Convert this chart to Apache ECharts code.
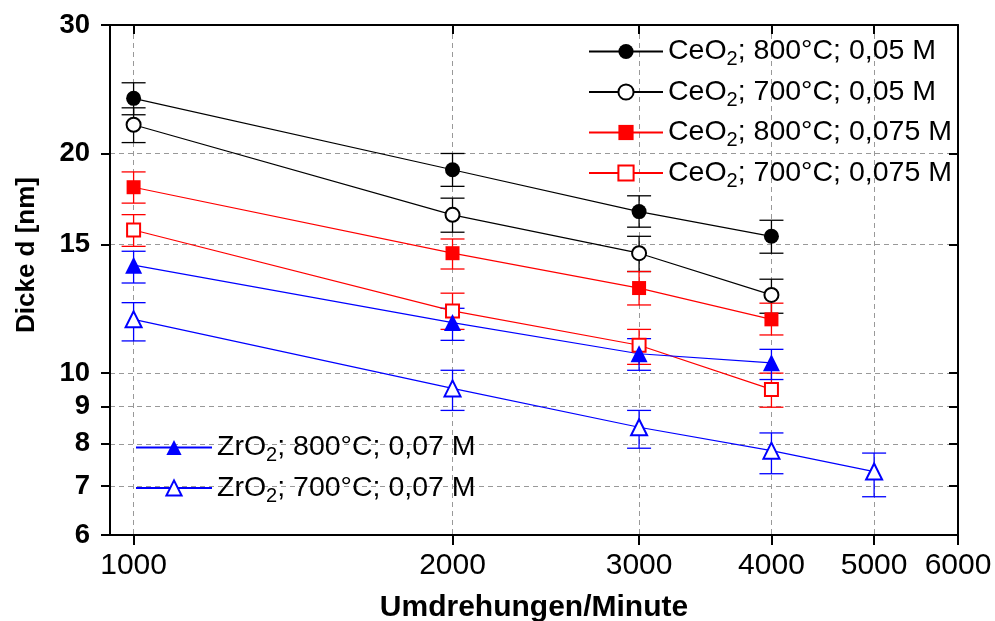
<!DOCTYPE html>
<html>
<head>
<meta charset="utf-8">
<script src="https://cdn.jsdelivr.net/npm/echarts@6/dist/echarts.min.js"></script>
<style>
  html, body { margin: 0; padding: 0; background: #fff; }
  #chart { width: 995px; height: 621px; }
</style>
</head>
<body>
<div id="chart"></div>
<script>
// x values (Umdrehungen/Minute)
const rpm = [1000, 2000, 3000, 4000];
const rpmZr700 = [1000, 2000, 3000, 4000, 5000];
const xTicks = [1000, 2000, 3000, 4000, 5000, 6000];
const yTicks = [6, 7, 8, 9, 10, 15, 20, 30];

// Dicke d [nm], mean + lower/upper end of the error bars
const ce800_005 = [23.8, 19.0, 16.65, 15.4];
const ce800_005Lo = [22.6, 18.03, 15.85, 14.6];
const ce800_005Hi = [25.0, 20.0, 17.5, 16.2];

const ce700_005 = [21.9, 16.48, 14.6, 12.8];
const ce700_005Lo = [20.7, 15.6, 13.78, 12.08];
const ce700_005Hi = [23.1, 17.37, 15.4, 13.45];

const ce800_0075 = [17.98, 14.6, 13.08, 11.85];
const ce800_0075Lo = [17.1, 13.89, 12.4, 11.28];
const ce800_0075Hi = [18.87, 15.27, 13.78, 12.47];

const ce700_0075 = [15.71, 12.17, 10.92, 9.5];
const ce700_0075Lo = [14.92, 11.48, 10.28, 8.98];
const ce700_0075Hi = [16.49, 12.87, 11.48, 10.0];

const zr800 = [14.06, 11.73, 10.63, 10.33];
const zr800Lo = [13.29, 11.09, 10.09, 9.8];
const zr800Hi = [14.69, 12.27, 11.15, 10.78];

const zr700 = [11.85, 9.53, 8.43, 7.83, 7.33];
const zr700Lo = [11.07, 8.89, 7.89, 7.28, 6.77];
const zr700Hi = [12.49, 10.09, 8.89, 8.28, 7.77];

const names = [
  'CeO2; 800°C; 0,05 M',
  'CeO2; 700°C; 0,05 M',
  'CeO2; 800°C; 0,075 M',
  'CeO2; 700°C; 0,075 M',
  'ZrO2; 800°C; 0,07 M',
  'ZrO2; 700°C; 0,07 M'
];

const groups = [
  { name: names[0], x: rpm, y: ce800_005, lo: ce800_005Lo, hi: ce800_005Hi, color: '#000000', symbol: 'circle', size: 15 },
  { name: names[1], x: rpm, y: ce700_005, lo: ce700_005Lo, hi: ce700_005Hi, color: '#000000', symbol: 'emptyCircle', size: 14 },
  { name: names[2], x: rpm, y: ce800_0075, lo: ce800_0075Lo, hi: ce800_0075Hi, color: '#ff0000', symbol: 'rect', size: 14 },
  { name: names[3], x: rpm, y: ce700_0075, lo: ce700_0075Lo, hi: ce700_0075Hi, color: '#ff0000', symbol: 'emptyRect', size: 13 },
  { name: names[4], x: rpm, y: zr800, lo: zr800Lo, hi: zr800Hi, color: '#0000ff', symbol: 'triangle', size: 17 },
  { name: names[5], x: rpmZr700, y: zr700, lo: zr700Lo, hi: zr700Hi, color: '#0000ff', symbol: 'emptyTriangle', size: 16 }
];

const FONT = '"Liberation Sans", Arial, sans-serif';

function renderErrorBar(params, api) {
  const x = api.value(0);
  const lo = api.coord([x, api.value(1)]);
  const hi = api.coord([x, api.value(2)]);
  const w = 12;
  const style = { stroke: api.visual('color'), lineWidth: 1.3 };
  return {
    type: 'group',
    children: [
      { type: 'line', shape: { x1: lo[0], y1: lo[1], x2: hi[0], y2: hi[1] }, style: style },
      { type: 'line', shape: { x1: lo[0] - w, y1: lo[1], x2: lo[0] + w, y2: lo[1] }, style: style },
      { type: 'line', shape: { x1: hi[0] - w, y1: hi[1], x2: hi[0] + w, y2: hi[1] }, style: style }
    ]
  };
}

// "CeO2; ..." -> rich text with subscript 2
function legendLabel(name) {
  const i = name.indexOf('2');
  return '{t|' + name.slice(0, i) + '}{s|2}{t|' + name.slice(i + 1) + '}';
}

const series = [];
groups.forEach(g => {
  series.push({
    name: g.name + ' err',
    type: 'custom',
    renderItem: renderErrorBar,
    itemStyle: { color: g.color },
    encode: { x: 0, y: [1, 2] },
    data: g.x.map((v, i) => [v, g.lo[i], g.hi[i]]),
    z: 1,
    silent: true
  });
});
groups.forEach(g => {
  series.push({
    name: g.name,
    type: 'line',
    symbol: g.symbol,
    symbolSize: g.size,
    showAllSymbol: true,
    lineStyle: { color: g.color, width: 1.2 },
    itemStyle: { color: g.color, borderWidth: 1.8 },
    data: g.x.map((v, i) => [v, g.y[i]]),
    z: 3,
    animation: false
  });
});

const legendText = {
  color: '#000',
  rich: {
    t: { fontFamily: FONT, fontSize: 28.5, color: '#000', lineHeight: 36 },
    s: { fontFamily: FONT, fontSize: 20, color: '#000', verticalAlign: 'bottom', lineHeight: 36 }
  }
};

const chart = echarts.init(document.getElementById('chart'));
chart.setOption({
  animation: false,
  backgroundColor: '#ffffff',
  grid: { left: 110, right: 37, top: 25, bottom: 86, outerBoundsMode: 'none', containLabel: false },
  legend: [
    {
      data: names.slice(0, 4),
      orient: 'vertical',
      left: 583,
      top: 32,
      itemWidth: 74,
      itemHeight: 19,
      itemGap: 8,
      selectedMode: false,
      formatter: legendLabel,
      textStyle: legendText
    },
    {
      data: names.slice(4),
      orient: 'vertical',
      left: 130,
      top: 428,
      itemWidth: 76,
      itemHeight: 19,
      itemGap: 8,
      selectedMode: false,
      formatter: legendLabel,
      textStyle: legendText
    }
  ],
  xAxis: [
    {
      type: 'log',
      min: 950,
      max: 6000,
      name: 'Umdrehungen/Minute',
      nameLocation: 'middle',
      nameGap: 58,
      nameTextStyle: { fontFamily: FONT, fontSize: 30, fontWeight: 'bold', color: '#000' },
      axisLine: { show: true, lineStyle: { color: '#000', width: 2 } },
      axisTick: { show: true, inside: false, length: 10, lineStyle: { color: '#000', width: 2 }, customValues: xTicks },
      axisLabel: { customValues: xTicks, margin: 16, fontFamily: FONT, fontSize: 30, color: '#000', formatter: v => String(Math.round(v)) },
      splitLine: { show: true, lineStyle: { color: '#999', type: [5, 4], width: 1 } },
      minorTick: { show: false }
    },
    {
      type: 'log',
      position: 'top',
      min: 950,
      max: 6000,
      axisLine: { show: true, lineStyle: { color: '#000', width: 2 } },
      axisTick: { show: true, inside: true, length: 9, lineStyle: { color: '#000', width: 2 }, customValues: xTicks },
      axisLabel: { show: false },
      splitLine: { show: false }
    }
  ],
  yAxis: [
    {
      type: 'log',
      min: 6,
      max: 30,
      axisLine: { show: true, lineStyle: { color: '#000', width: 2 } },
      axisTick: { show: true, inside: false, length: 9, lineStyle: { color: '#000', width: 2 }, customValues: yTicks },
      axisLabel: { customValues: yTicks, margin: 20, fontFamily: FONT, fontSize: 27.5, fontWeight: 'bold', color: '#000', formatter: v => String(Math.round(v)) },
      splitLine: { show: true, lineStyle: { color: '#999', type: [5, 4], width: 1 } }
    },
    {
      type: 'log',
      position: 'right',
      min: 6,
      max: 30,
      axisLine: { show: true, lineStyle: { color: '#000', width: 2 } },
      axisTick: { show: true, inside: true, length: 9, lineStyle: { color: '#000', width: 2 }, customValues: yTicks },
      axisLabel: { show: false },
      splitLine: { show: false }
    }
  ],
  graphic: [
    {
      type: 'text',
      x: 27,
      y: 255,
      rotation: Math.PI / 2,
      style: {
        text: 'Dicke d [nm]',
        font: 'bold 26px "Liberation Sans", Arial, sans-serif',
        fill: '#000',
        align: 'center',
        verticalAlign: 'middle'
      }
    }
  ],
  series: series
});
</script>
</body>
</html>
